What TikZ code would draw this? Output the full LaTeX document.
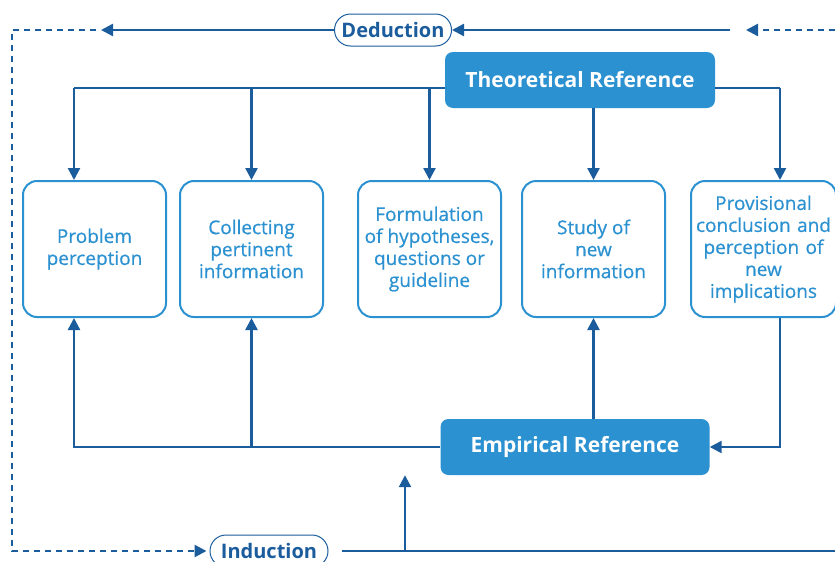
\documentclass[tikz,border=0pt]{standalone}
\usepackage{fontspec}
\setmainfont{Open Sans}
\newfontfamily\boxfont{Open Sans}[FakeBold=0.6]
\usepackage{tikz}
\usetikzlibrary{arrows.meta,calc,positioning}
\usepackage{xcolor}
\definecolor{darkblue}{HTML}{1A5C9C}
\definecolor{lightblue}{HTML}{2B91D0}

\begin{document}
\begin{tikzpicture}[x=1pt,y=-1pt,
	  every node/.style={align=center,font=\boxfont\fontsize{19}{22}\selectfont},
	  step box/.style={draw=lightblue,line width=2pt,rounded corners=14pt,text=lightblue,minimum width=143pt,minimum height=136pt,inner sep=1pt},
	  reference/.style={fill=lightblue,rounded corners=8pt,text=white,font=\fontsize{21}{24}\selectfont\bfseries,minimum height=56pt},
	  pill/.style={draw=darkblue,line width=1pt,rounded corners=16pt,text=darkblue,font=\fontsize{20}{22}\selectfont\bfseries,minimum height=32pt,inner sep=0pt},
	  line/.style={draw=darkblue,line width=2.4pt},
	  to/.style={line,-{Triangle[length=12pt,width=12pt]}},
	  dashto/.style={to,dash pattern=on 6pt off 5pt}]

	  \useasboundingbox (0,0) rectangle (835,562);

	  % Main nodes
	  \node[reference,minimum width=270pt] (theo) at (580,80) {Theoretical Reference};
	  \node[reference,minimum width=269pt] (emp) at (575,447) {Empirical Reference};
	  \node[pill,minimum width=117pt] (ded) at (393,30) {Deduction};
	  \node[pill,minimum width=118pt] (ind) at (269,551) {Induction};

	  \node[step box] (perception) at (94.5,249) {Problem\\perception};
	  \node[step box] (collecting) at (251.5,249) {Collecting\\pertinent\\information};
	  \node[step box] (hypotheses) at (429.5,249) {Formulation\\of hypotheses,\\questions or\\guideline};
	  \node[step box] (study) at (593.5,249) {Study of\\new\\information};
	  \node[step box,text width=143pt] (conclusion) at (763.5,249) {Provisional\\conclusion and\\perception of\\new\\implications};

	  % Free ends
	  \coordinate (t1) at (74,88);
	  \coordinate (t5) at (780,88);
	  \coordinate (dedright) at (730,30);
	  \coordinate (dedleft) at (101,30);
	  \coordinate (dashstart) at (96,30);
	  \coordinate (dashcorner) at (12,30);
	  \coordinate (dashin) at (835,30);
	  \coordinate (dashinend) at (746,30);
	  \coordinate (indleft) at (342,551);
	  \coordinate (indright) at (835,551);
	  \coordinate (indup) at (405,551);

	  % Theoretical reference to the steps
	  \draw[line] (t1) -- (theo.west |- t1);
	  \draw[line] (theo.east |- t5) -- (t5);
	  \draw[to] (t1) -- (t1 |- perception.north);
	  \draw[to] (collecting.north |- t1) -- (collecting.north);
	  \draw[to] (hypotheses.north |- t1) -- (hypotheses.north);
	  \draw[to] (theo.south -| study.north) -- (study.north);
	  \draw[to] (t5) -- (t5 |- conclusion.north);

	  % Empirical reference to the steps
	  \draw[to] (emp.west) -| (t1 |- perception.south);
	  \draw[to] (collecting.south |- emp.west) -- (collecting.south);
	  \draw[to] (study.south |- emp.north) -- (study.south);
	  \draw[to] (t5 |- conclusion.south) |- (emp.east);

	  % Deduction and induction
	  \draw[to] (dedright) -- (ded.east);
	  \draw[to] (ded.west) -- (dedleft);
	  \draw[dashto] (dashin) -- (dashinend);
	  \draw[dashto] (dashstart) -- (dashcorner) |- ([xshift=-3pt]ind.west);
	  \draw[line] (indleft) -- (indright);
	  \draw[to] (indup) -- (indup |- emp.south);

\end{tikzpicture}
\end{document}
